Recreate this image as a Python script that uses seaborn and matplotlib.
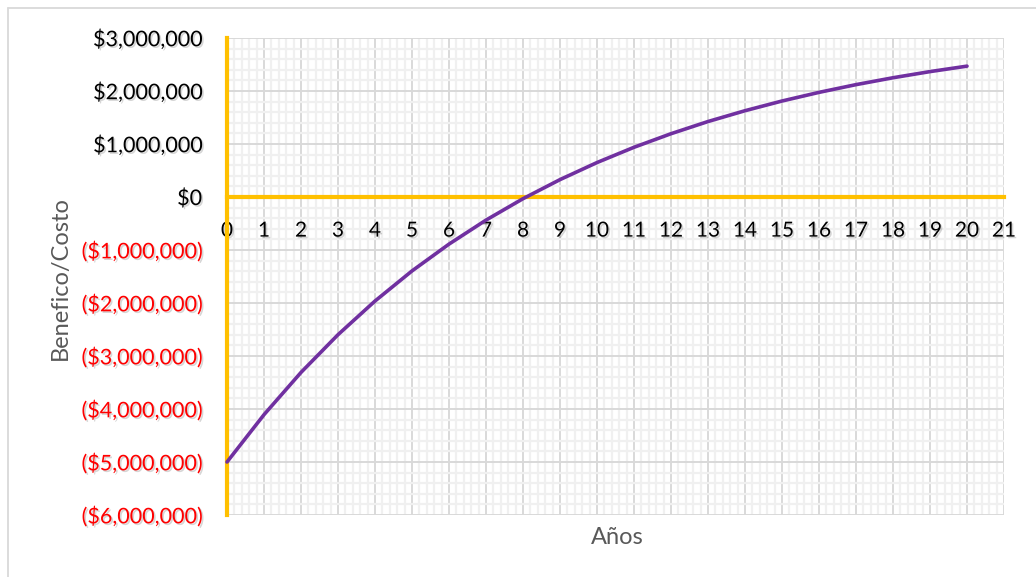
import numpy as np
import pandas as pd
import matplotlib
matplotlib.use("Agg")
import matplotlib.pyplot as plt
import matplotlib.patheffects as pe
from matplotlib.lines import Line2D
from matplotlib.ticker import MultipleLocator, FuncFormatter, NullFormatter
import seaborn as sns

# ---- data ----
anios = [0, 1, 2, 3, 4, 5, 6, 7, 8, 9, 10, 11, 12, 13, 14, 15, 16, 17, 18, 19, 20]
beneficio_costo = [-5000000, -4107000, -3310000, -2598000, -1963000, -1395000,
                   -889000, -436000, -32000, 328000, 650000, 938000, 1194000,
                   1424000, 1628000, 1811000, 1974000, 2120000, 2250000,
                   2366000, 2469000]
x_label = "Años"
y_label = "Benefico/Costo"

df = pd.DataFrame({"Años": anios, "Valor": beneficio_costo})

sns.set_style("white")
plt.rcParams["font.family"] = ["Lato", "DejaVu Sans"]

W, H = 1036, 577
fig = plt.figure(figsize=(W / 100, H / 100), dpi=100)
L, R, T, B = 227, 1004, 38, 515
rect = [L / W, 1 - B / H, (R - L) / W, (B - T) / H]

XMIN, XMAX, YMIN, YMAX = 0, 21, -6000000, 3000000

# background axes carrying only the grid
gax = fig.add_axes(rect, zorder=0)
gax.set_xlim(XMIN, XMAX)
gax.set_ylim(YMIN, YMAX)
gax.xaxis.set_major_locator(MultipleLocator(1))
gax.xaxis.set_minor_locator(MultipleLocator(0.2))
gax.yaxis.set_major_locator(MultipleLocator(1000000))
gax.yaxis.set_minor_locator(MultipleLocator(200000))
gax.grid(which="minor", color="#F0F0F0", linewidth=1.6)
gax.grid(which="major", color="#D9D9D9", linewidth=1.4)
gax.tick_params(which="both", length=0, labelbottom=False, labelleft=False)
for s in gax.spines.values():
    s.set_visible(False)

# main axes
ax = fig.add_axes(rect, zorder=1)
ax.patch.set_visible(False)

gold = "#FFC000"
purple = "#7030A0"

sns.lineplot(data=df, x="Años", y="Valor", ax=ax, color=purple,
             linewidth=2.6, zorder=10, clip_on=False)

ax.set_xlim(XMIN, XMAX)
ax.set_ylim(YMIN, YMAX)
ax.xaxis.set_major_locator(MultipleLocator(1))
ax.yaxis.set_major_locator(MultipleLocator(1000000))
ax.grid(False)

for s in ["top", "right"]:
    ax.spines[s].set_visible(False)
ax.spines["left"].set_position(("data", 0))
ax.spines["bottom"].set_position(("data", 0))
for s in ["left", "bottom"]:
    ax.spines[s].set_color(gold)
    ax.spines[s].set_linewidth(3)
    ax.spines[s].set_zorder(5)

def fmt(v, pos):
    v = int(round(v))
    if v < 0:
        return "(${:,})".format(-v)
    return "${:,}".format(v)

ax.yaxis.set_major_formatter(FuncFormatter(fmt))
ax.tick_params(axis="y", which="major", direction="out", length=6, width=3,
               color=gold, pad=12, labelsize=15.5)
ax.tick_params(axis="x", which="major", direction="out", length=5, width=3,
               color=gold, pad=12, labelsize=15)
ax.set_xlabel("")
ax.set_ylabel("")

shadow = [pe.withSimplePatchShadow(offset=(1.2, -1.2), shadow_rgbFace="#000000", alpha=0.16)]
for lab in ax.get_yticklabels():
    txt = lab.get_text()
    lab.set_color("#FF0000" if txt.startswith("(") else "#000000")
    lab.set_path_effects(shadow)
for lab in ax.get_xticklabels():
    lab.set_color("#000000")
    lab.set_path_effects(shadow)

fig.text(617 / W, 1 - 537 / H, x_label, ha="center", va="center",
         fontsize=17, color="#595959")
fig.text(60 / W, 1 - 278 / H, y_label, ha="center", va="center",
         rotation=90, fontsize=17, color="#595959")

# outer chart border (partially visible)
fig.add_artist(Line2D([7.5 / W, 7.5 / W], [0, 1 - 8 / H], transform=fig.transFigure,
                      color="#D9D9D9", linewidth=1.3))
fig.add_artist(Line2D([7.5 / W, 1], [1 - 8 / H, 1 - 8 / H], transform=fig.transFigure,
                      color="#D9D9D9", linewidth=1.3))

fig.savefig("out.png", dpi=100)
